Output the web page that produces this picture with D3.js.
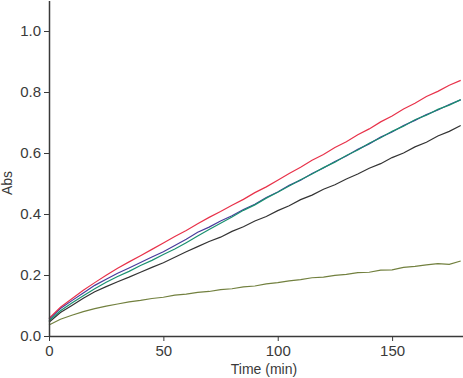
<!DOCTYPE html>
<html>
<head>
<meta charset="utf-8">
<script src="https://cdnjs.cloudflare.com/ajax/libs/d3/7.8.5/d3.min.js"></script>
<style>
  html, body { margin: 0; padding: 0; background: #fff; }
  svg { display: block; font-family: "Liberation Sans", Arial, sans-serif; }
</style>
</head>
<body>
<svg id="chart" width="463" height="378"></svg>
<script>
// === Datos (cada 5 min) ===
const times = d3.range(0, 181, 5);

const absRed = [0.058, 0.094, 0.122, 0.150, 0.175, 0.199, 0.222, 0.243, 0.263, 0.284,
  0.305, 0.326, 0.346, 0.368, 0.389, 0.408, 0.429, 0.448, 0.470, 0.489,
  0.511, 0.533, 0.553, 0.576, 0.595, 0.618, 0.637, 0.660, 0.679, 0.702,
  0.721, 0.744, 0.763, 0.785, 0.802, 0.822, 0.838];

const absBlue = [0.055, 0.090, 0.116, 0.141, 0.166, 0.186, 0.206, 0.223, 0.241, 0.259,
  0.276, 0.297, 0.317, 0.340, 0.357, 0.377, 0.394, 0.415, 0.432, 0.454,
  0.472, 0.494, 0.511, 0.533, 0.551, 0.572, 0.590, 0.612, 0.630, 0.652,
  0.669, 0.690, 0.707, 0.726, 0.741, 0.759, 0.774];

const absTeal = [0.050, 0.083, 0.108, 0.132, 0.155, 0.176, 0.195, 0.212, 0.231, 0.248,
  0.267, 0.285, 0.306, 0.328, 0.349, 0.370, 0.390, 0.412, 0.430, 0.452,
  0.471, 0.492, 0.512, 0.531, 0.552, 0.570, 0.592, 0.610, 0.632, 0.650,
  0.671, 0.688, 0.709, 0.724, 0.743, 0.757, 0.775];

const absBlack = [0.045, 0.077, 0.100, 0.124, 0.145, 0.162, 0.178, 0.193, 0.209, 0.225,
  0.240, 0.258, 0.276, 0.293, 0.310, 0.324, 0.343, 0.358, 0.377, 0.392,
  0.411, 0.427, 0.447, 0.462, 0.481, 0.496, 0.515, 0.531, 0.550, 0.565,
  0.585, 0.600, 0.620, 0.635, 0.656, 0.671, 0.690];

const absOlive = [0.036, 0.055, 0.068, 0.080, 0.090, 0.098, 0.105, 0.112, 0.117, 0.123,
  0.127, 0.134, 0.137, 0.143, 0.146, 0.152, 0.155, 0.161, 0.164, 0.171,
  0.175, 0.181, 0.185, 0.191, 0.193, 0.199, 0.202, 0.208, 0.209, 0.216,
  0.217, 0.225, 0.228, 0.233, 0.237, 0.235, 0.246];

const xTicks = [0, 50, 100, 150];
const yTicks = [0, 0.2, 0.4, 0.6, 0.8, 1.0];

const series = [
  { name: 'olive', values: absOlive, color: '#72803f' },
  { name: 'black', values: absBlack, color: '#333333' },
  { name: 'blue',  values: absBlue,  color: '#483c9c' },
  { name: 'teal',  values: absTeal,  color: '#1a9070' },
  { name: 'red',   values: absRed,   color: '#e8324a' }
];

// === Escalas ===
const svg = d3.select('#chart');
const x = d3.scaleLinear().domain([0, 181]).range([49, 463]);
const y = d3.scaleLinear().domain([0, 1.1]).range([336, 0.5]);
const axisColor = '#3a3a3a';

// === Líneas ===
const line = d3.line()
  .x((d, i) => x(times[i]))
  .y(d => y(d));

svg.append('g').selectAll('path')
  .data(series)
  .join('path')
  .attr('d', s => line(s.values))
  .attr('fill', 'none')
  .attr('stroke', s => s.color)
  .attr('stroke-width', 1.2);

// === Ejes ===
const gx = svg.append('g')
  .attr('transform', `translate(0,${y(0)})`)
  .call(d3.axisBottom(x).tickValues(xTicks).tickSize(5).tickSizeOuter(0).tickPadding(4));
const gy = svg.append('g')
  .attr('transform', `translate(${x(0)},0)`)
  .call(d3.axisLeft(y).tickValues(yTicks).tickFormat(d3.format('.1f')).tickSize(5).tickSizeOuter(0).tickPadding(3));

[gx, gy].forEach(g => {
  g.select('.domain').attr('stroke', axisColor).attr('stroke-width', 1.5);
  g.selectAll('.tick line').attr('stroke', axisColor).attr('stroke-width', 1);
  g.selectAll('.tick text').attr('fill', axisColor).attr('font-size', 15)
    .attr('font-family', '"Liberation Sans", Arial, sans-serif');
});

// === Títulos ===
svg.append('text')
  .attr('x', 264).attr('y', 374)
  .attr('text-anchor', 'middle')
  .attr('font-size', 14).attr('fill', axisColor)
  .text('Time (min)');

svg.append('text')
  .attr('transform', 'translate(12,183) rotate(-90)')
  .attr('text-anchor', 'middle')
  .attr('font-size', 14).attr('fill', axisColor)
  .text('Abs');
</script>
</body>
</html>
